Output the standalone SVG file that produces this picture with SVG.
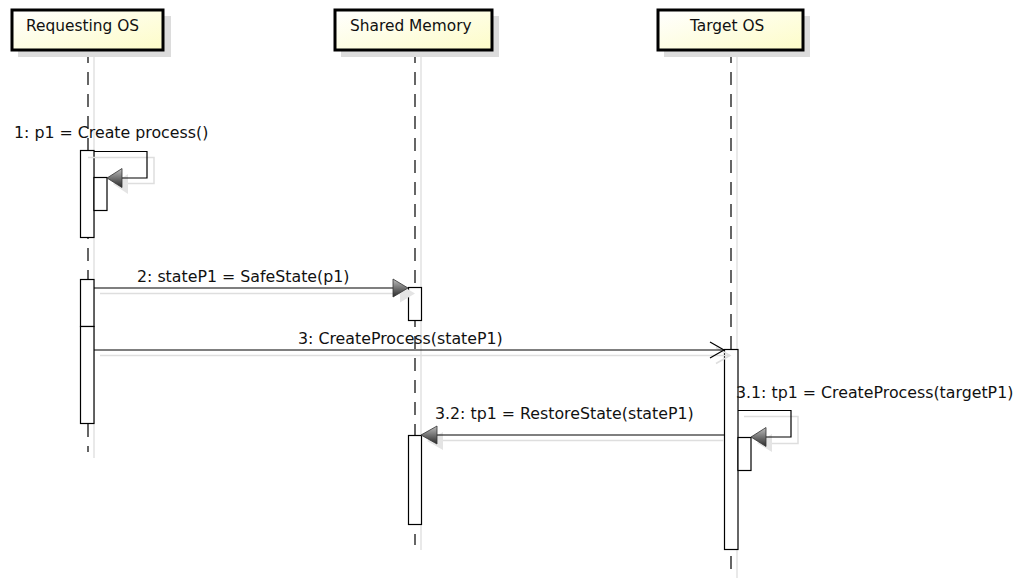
<svg xmlns="http://www.w3.org/2000/svg" width="1020" height="584" viewBox="0 0 1020 584">
<defs>
<linearGradient id="hdr" x1="0" y1="0" x2="1" y2="1">
<stop offset="0" stop-color="#ffffff"/>
<stop offset="1" stop-color="#fdfcc8"/>
</linearGradient>
<linearGradient id="arr" x1="0" y1="0" x2="0" y2="1">
<stop offset="0" stop-color="#bdbdbd"/>
<stop offset="1" stop-color="#2a2a2a"/>
</linearGradient>
<style>
.shadow{fill:#dcdcdc;stroke:none}
.hbox{fill:url(#hdr);stroke:#000;stroke-width:3}
.htxt{font-family:"DejaVu Sans",sans-serif;font-size:15.4px;fill:#111}
.lbl{font-family:"DejaVu Sans",sans-serif;font-size:15.8px;fill:#111}
.life{stroke:#000;stroke-width:1.2;stroke-dasharray:13 9;fill:none}
.lifesh{stroke:#e2e2e2;stroke-width:1.5;fill:none}
.act{fill:#fff;stroke:#000;stroke-width:1.2}
.msg{stroke:#000;stroke-width:1.2;fill:none}
.msgsh{stroke:#dedede;stroke-width:1.5;fill:none}
.tri{fill:url(#arr);stroke:#333;stroke-width:0.8}
.trish{fill:#e4e4e4;stroke:none}
</style>
</defs>
<rect width="1020" height="584" fill="#fff"/>

<g id="lifelines">
<line class="lifesh" x1="94" y1="57" x2="94" y2="458"/>
<line class="life" x1="88" y1="50" x2="88" y2="452"/>
<line class="lifesh" x1="421" y1="57" x2="421" y2="550"/>
<line class="life" x1="415" y1="50" x2="415" y2="545"/>
<line class="lifesh" x1="737" y1="57" x2="737" y2="578"/>
<line class="life" x1="731" y1="50" x2="731" y2="571"/>
</g>

<g id="requesting-os">
<rect class="shadow" x="18" y="16" width="153" height="41"/>
<rect class="hbox" x="12" y="10" width="151" height="40"/>
<text class="htxt" x="26" y="31">Requesting OS</text>
</g>
<g id="shared-memory">
<rect class="shadow" x="341" y="16" width="158" height="41"/>
<rect class="hbox" x="335" y="10" width="157" height="40"/>
<text class="htxt" x="350" y="31">Shared Memory</text>
</g>
<g id="target-os">
<rect class="shadow" x="664" y="16" width="146" height="41"/>
<rect class="hbox" x="658" y="10" width="145" height="40"/>
<text class="htxt" x="690" y="31">Target OS</text>
</g>

<g id="activations">
<rect class="act" x="80.5" y="150.5" width="13.5" height="87"/>
<rect class="act" x="94" y="177.5" width="13" height="33"/>
<rect class="act" x="80.5" y="279.5" width="13.5" height="47"/>
<rect class="act" x="80.5" y="326.5" width="13.5" height="97"/>
<rect class="act" x="408.5" y="287.5" width="13" height="33"/>
<rect class="act" x="408.5" y="435.5" width="13" height="89"/>
<rect class="act" x="724.5" y="349.5" width="13.5" height="200"/>
<rect class="act" x="738" y="437.5" width="13" height="33"/>
</g>

<g id="connectors">
<!-- 1: self message -->
<path class="msgsh" d="M88 157.5 H154 V183.5 H124"/>
<polygon class="trish" points="113,184 128,174 128,194"/>
<path class="msg" d="M94 151.5 H147 V178 H120"/>
<polygon class="tri" points="107,178 122,168.5 122,187.5"/>
<text class="lbl" x="14" y="138">1: p1 = Create process()</text>

<!-- 2 -->
<line class="msgsh" x1="100" y1="293.5" x2="400" y2="293.5"/>
<polygon class="trish" points="415,293.5 400,284.5 400,302.5"/>
<line class="msg" x1="94" y1="288" x2="393" y2="288"/>
<polygon class="tri" points="408,288 393,279 393,297"/>
<text class="lbl" x="137" y="282">2: stateP1 = SafeState(p1)</text>

<!-- 3 -->
<line class="msgsh" x1="100" y1="355.5" x2="730" y2="355.5"/>
<path class="msgsh" d="M716 347.5 L730 355.5 L716 363.5"/>
<line class="msg" x1="94" y1="350" x2="724" y2="350"/>
<path class="msg" d="M710 342 L724 350 L710 358"/>
<text class="lbl" x="298" y="344">3: CreateProcess(stateP1)</text>

<!-- 3.1 self message -->
<path class="msgsh" d="M744 416.5 H798 V443.5 H768"/>
<polygon class="trish" points="757,443 772,434 772,452"/>
<path class="msg" d="M738 410.5 H791 V437 H766"/>
<polygon class="tri" points="751,437 766,427.5 766,446.5"/>
<text class="lbl" x="736" y="398">3.1: tp1 = CreateProcess(targetP1)</text>

<!-- 3.2 -->
<line class="msgsh" x1="437" y1="440.5" x2="724" y2="440.5"/>
<polygon class="trish" points="427,441 443,432 443,450"/>
<line class="msg" x1="436" y1="435" x2="724" y2="435"/>
<polygon class="tri" points="421,435 437,426 437,444"/>
<text class="lbl" x="435" y="419">3.2: tp1 = RestoreState(stateP1)</text>
</g>
</svg>
